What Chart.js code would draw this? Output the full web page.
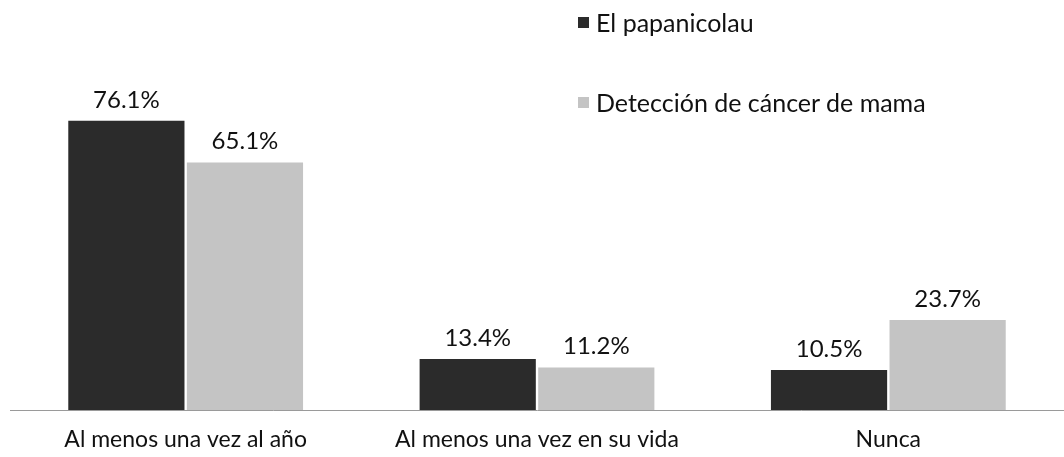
<!DOCTYPE html>
<html lang="es">
<head>
  <meta charset="UTF-8" />
  <title>Papanicolau y detección de cáncer de mama</title>
  <script src="https://cdn.jsdelivr.net/npm/chart.js"></script>
  <style>
    * { box-sizing: border-box; }
    body { margin: 0; background: #fff; font-family: Lato, "Open Sans", sans-serif; }
    .wrap { position: relative; width: 1064px; height: 457px; }
    .legend { position: absolute; left: 578px; color: #111; font-size: 25px; line-height: 30px; display: flex; align-items: center; }
    .legend i { display: inline-block; width: 11px; height: 11px; margin-right: 7px; }
  </style>
</head>
<body>
  <div class="wrap">
    <canvas id="chart" width="1064" height="457"></canvas>
    <div class="legend" style="top: 7px;"><i style="background:#2b2b2b"></i>El papanicolau</div>
    <div class="legend" style="top: 87px;"><i style="background:#c4c4c4"></i>Detección de cáncer de mama</div>
  </div>

  <script>
    const categorias = ['Al menos una vez al año', 'Al menos una vez en su vida', 'Nunca'];
    const papanicolau = [76.1, 13.4, 10.5];
    const mama = [65.1, 11.2, 23.7];

    const etiquetas = {
      id: 'etiquetas',
      afterDatasetsDraw(chart) {
        const ctx = chart.ctx;
        ctx.save();
        ctx.font = '24px Lato, "Open Sans", sans-serif';
        ctx.fillStyle = '#111';
        ctx.textAlign = 'center';
        ctx.textBaseline = 'bottom';
        chart.data.datasets.forEach((ds, i) => {
          chart.getDatasetMeta(i).data.forEach((bar, j) => {
            ctx.fillText(ds.data[j].toFixed(1) + '%', bar.x, bar.y - 9);
          });
        });
        ctx.restore();
      }
    };

    new Chart(document.getElementById('chart'), {
      type: 'bar',
      data: {
        labels: categorias,
        datasets: [
          { label: 'El papanicolau', data: papanicolau, backgroundColor: '#2b2b2b' },
          { label: 'Detección de cáncer de mama', data: mama, backgroundColor: '#c4c4c4' }
        ]
      },
      options: {
        responsive: false,
        animation: false,
        datasets: { bar: { categoryPercentage: 0.675, barPercentage: 0.98 } },
        layout: { padding: { left: 10, right: 0, top: 30, bottom: 0 } },
        plugins: { legend: { display: false }, tooltip: { enabled: false } },
        scales: {
          x: {
            grid: { display: false, drawTicks: false },
            border: { color: '#9a9a9a', width: 1 },
            ticks: { color: '#111', font: { family: 'Lato', size: 23 }, padding: 16 },
            afterFit(scale) { scale.height = 47; }
          },
          y: { display: false, min: 0, max: 100 }
        }
      },
      plugins: [etiquetas]
    });
  </script>
</body>
</html>
